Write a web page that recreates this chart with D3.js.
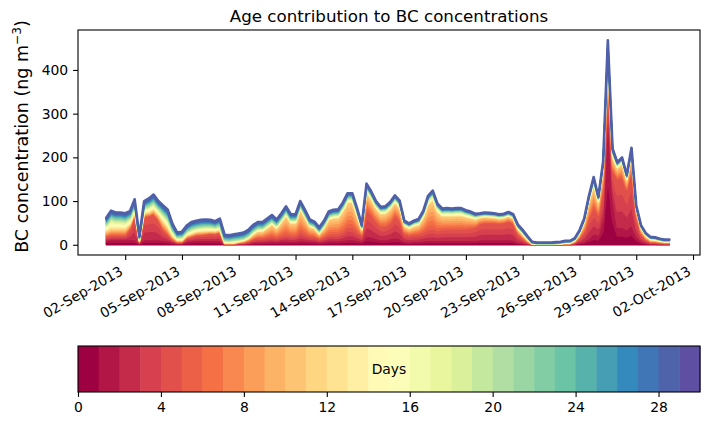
<!DOCTYPE html>
<html>
<head>
<meta charset="utf-8">
<script src="https://cdn.jsdelivr.net/npm/d3@7"></script>
<style>
  body { margin: 0; background: #fff; }
  text { font-family: "DejaVu Sans", sans-serif; }
</style>
</head>
<body>
<svg width="707" height="425"></svg>
<script>
// 6-hourly values from 01-Sep-2013 00:00 UTC
const startTime = new Date(Date.UTC(2013, 8, 1, 0));
const stepHours = 6;

// total BC (ng m-3)
const bcTotal = [
  62, 78, 74, 74, 72, 77, 104, 20, 100, 106,
  115, 100, 90, 80, 48, 28, 30, 44, 52, 55,
  57, 58, 57, 54, 60, 23, 22, 24, 26, 28,
  34, 45, 52, 52, 60, 68, 58, 72, 88, 70,
  70, 100, 80, 58, 53, 40, 55, 76, 80, 81,
  97, 118, 118, 84, 46, 140, 122, 100, 87, 88,
  98, 113, 101, 55, 49, 55, 59, 78, 112, 124,
  94, 83, 84, 83, 84, 84, 79, 76, 71, 72,
  74, 73, 72, 70, 71, 75, 70, 46, 34, 20,
  7, 5, 5, 5, 5, 6, 7, 9, 9, 15,
  33, 60, 112, 155, 110, 190, 468, 220, 189, 200,
  160, 222, 90, 45, 27, 18, 17, 14, 12, 12
];
// age 0-1 days
const bcFresh = [
  10, 12, 12, 12, 12, 12, 12, 3, 12, 12,
  12, 12, 10, 9, 6, 3, 3, 8, 9, 10,
  10, 10, 10, 10, 10, 1, 1, 1, 2, 2,
  3, 5, 6, 6, 7, 8, 7, 8, 9, 8,
  8, 10, 9, 8, 8, 6, 7, 9, 9, 9,
  10, 12, 12, 10, 8, 20, 18, 15, 12, 12,
  14, 16, 14, 8, 7, 8, 8, 9, 10, 10,
  10, 10, 10, 10, 10, 10, 10, 10, 10, 12,
  12, 12, 12, 12, 12, 12, 11, 6, 4, 2,
  0.5, 0.3, 0.3, 0.3, 0.3, 0.3, 0.4, 1, 1, 2,
  5, 8, 15, 25, 22, 60, 300, 110, 40, 40,
  35, 45, 20, 8, 4, 2, 2, 1.5, 1, 1
];
// age 2-4 days
const bcRed = [
  9, 10, 10, 10, 10, 25, 56, 3, 52, 54,
  58, 45, 25, 15, 6, 3, 3, 8, 10, 12,
  13, 14, 16, 15, 18, 1, 1, 1, 2, 3,
  5, 8, 10, 10, 11, 12, 10, 13, 15, 13,
  13, 20, 16, 12, 11, 8, 11, 15, 16, 16,
  20, 28, 28, 20, 14, 60, 50, 38, 30, 30,
  35, 50, 42, 18, 15, 16, 17, 20, 25, 27,
  22, 25, 26, 26, 26, 26, 26, 28, 30, 36,
  38, 38, 38, 37, 38, 42, 38, 20, 10, 4,
  0.5, 0.3, 0.3, 0.3, 0.3, 0.4, 0.5, 1, 1, 3,
  10, 22, 45, 60, 45, 70, 70, 60, 110, 115,
  90, 125, 45, 17, 8, 4, 4, 3, 2.5, 2.5
];
// age 5-10 days
const bcOrange = [
  12, 14, 14, 14, 14, 10, 6, 3, 8, 8,
  10, 12, 18, 15, 8, 4, 4, 5, 6, 7,
  7, 7, 6, 6, 6, 2, 2, 2, 3, 4,
  6, 10, 14, 14, 20, 26, 20, 30, 42, 28,
  28, 50, 36, 21, 18, 11, 20, 33, 35, 36,
  46, 56, 56, 36, 12, 40, 35, 30, 28, 29,
  32, 30, 28, 17, 15, 18, 20, 33, 56, 64,
  43, 30, 30, 29, 30, 30, 27, 23, 18, 14,
  14, 13, 12, 11, 11, 11, 11, 10, 10, 5,
  1, 0.5, 0.5, 0.5, 0.5, 0.6, 0.8, 1.5, 1.5, 4,
  10, 20, 38, 50, 30, 45, 50, 30, 25, 30,
  23, 35, 17, 12, 8, 5, 4, 3.5, 3, 3
];
// age 20-29 days
const bcOld = [
  16, 18, 18, 18, 18, 16, 16, 6, 16, 18,
  19, 17, 19, 21, 15, 11, 12, 14, 16, 16,
  16, 16, 15, 14, 16, 13, 13, 13, 14, 14,
  14, 14, 14, 14, 14, 14, 13, 13, 13, 13,
  13, 12, 12, 11, 10, 10, 10, 11, 11, 11,
  11, 11, 11, 9, 7, 10, 9, 8, 8, 8,
  8, 8, 8, 6, 6, 6, 7, 7, 8, 9,
  8, 8, 8, 8, 8, 8, 7, 7, 6, 5,
  5, 5, 5, 5, 5, 5, 5, 5, 5, 4,
  3, 2.5, 2.5, 2.5, 2.5, 3, 3, 3, 3, 3,
  4, 4, 6, 8, 5, 5, 18, 8, 6, 6,
  5, 6, 3, 3, 3, 3, 3, 3, 3, 3
];

const ageDays = d3.range(30);
const bandDays = [[0, 1], [2, 4], [5, 10], [11, 19], [20, 29]];
const xTickDates = ["2013-09-02", "2013-09-05", "2013-09-08", "2013-09-11", "2013-09-14",
  "2013-09-17", "2013-09-20", "2013-09-23", "2013-09-26", "2013-09-29", "2013-10-02"];
const yTicks = [0, 100, 200, 300, 400];
const cbarTicks = [0, 4, 8, 12, 16, 20, 24, 28];

// matplotlib "Spectral", linear segments
const spectralStops = ["#9e0142", "#d53e4f", "#f46d43", "#fdae61", "#fee08b", "#ffffbf",
  "#e6f598", "#abdda4", "#66c2a5", "#3288bd", "#5e4fa2"];
const spectral = d3.piecewise(d3.interpolateRgb, spectralStops);
const color = d => spectral(d / 29);

// one row per time step, one column per age day
const rows = bcTotal.map((tot, i) => {
  const mid = Math.max(0, tot - bcFresh[i] - bcRed[i] - bcOrange[i] - bcOld[i]);
  const bands = [bcFresh[i], bcRed[i], bcOrange[i], mid, bcOld[i]];
  const row = { time: d3.utcHour.offset(startTime, stepHours * i) };
  bandDays.forEach(([a, b], k) => {
    for (let d = a; d <= b; d++) row[d] = bands[k] / (b - a + 1);
  });
  return row;
});

const svg = d3.select("svg");
const pL = 78, pR = 700, pT = 30, pB = 255;

const t0 = rows[0].time, t1 = rows[rows.length - 1].time;
const pad = 0.05 * (t1 - t0 + 3 * 3600e3);
const x = d3.scaleUtc()
  .domain([new Date(+t0 - pad), new Date(+t1 + 3 * 3600e3 + pad)])
  .range([pL, pR]);

const series = d3.stack().keys(ageDays)(rows);
const ymax = d3.max(series[series.length - 1], d => d[1]);
const y = d3.scaleLinear()
  .domain([-0.05 * ymax, 1.05 * ymax])
  .range([pB, pT]);

const area = d3.area()
  .x(d => x(d.data.time))
  .y0(d => y(d[0]))
  .y1(d => y(d[1]));

svg.append("defs").append("clipPath").attr("id", "plotclip")
  .append("rect").attr("x", pL).attr("y", pT)
  .attr("width", pR - pL).attr("height", pB - pT);

svg.append("g").attr("clip-path", "url(#plotclip)")
  .selectAll("path")
  .data(series)
  .join("path")
  .attr("d", area)
  .attr("fill", s => color(s.key))
  .attr("stroke", s => s.key === 29 ? "#4f5fa8" : color(s.key))
  .attr("stroke-width", s => s.key === 29 ? 2.6 : 1.4)
  .attr("stroke-linejoin", "round");

// x axis
const xAxis = svg.append("g")
  .attr("transform", `translate(0,${pB})`)
  .call(d3.axisBottom(x)
    .tickValues(xTickDates.map(s => new Date(s + "T00:00:00Z")))
    .tickFormat(d3.utcFormat("%d-%b-%Y"))
    .tickSize(4.9).tickSizeOuter(0));
xAxis.select(".domain").remove();
xAxis.selectAll(".tick line").attr("stroke-width", 1.1);
xAxis.selectAll(".tick text")
  .attr("font-size", 13.9)
  .attr("fill", "#000")
  .attr("text-anchor", "end")
  .attr("dy", null)
  .attr("y", null)
  .attr("transform", "translate(-1.7,19) rotate(-30)");

// y axis
const yAxis = svg.append("g")
  .attr("transform", `translate(${pL},0)`)
  .call(d3.axisLeft(y).tickValues(yTicks).tickSize(4.9).tickPadding(4.9).tickSizeOuter(0));
yAxis.select(".domain").remove();
yAxis.selectAll(".tick line").attr("stroke-width", 1.1);
yAxis.selectAll(".tick text").attr("font-size", 13.9).attr("fill", "#000");

svg.append("rect")
  .attr("x", pL).attr("y", pT)
  .attr("width", pR - pL).attr("height", pB - pT)
  .attr("fill", "none").attr("stroke", "#000").attr("stroke-width", 1.1);

svg.append("text")
  .attr("x", (pL + pR) / 2).attr("y", 22)
  .attr("text-anchor", "middle").attr("font-size", 16.7)
  .text("Age contribution to BC concentrations");

const ylab = svg.append("text")
  .attr("transform", `translate(28,${(pT + pB) / 2 - 6}) rotate(-90)`)
  .attr("text-anchor", "middle").attr("font-size", 17.5);
ylab.append("tspan").text("BC concentration (ng m");
ylab.append("tspan").attr("font-size", 12.2).attr("dy", -7).text("\u22123");
ylab.append("tspan").attr("dy", 7).text(")");

// colour bar
const cbTop = 346, cbBottom = 392;
const cx = d3.scaleLinear().domain([0, 30]).range([pL, pR]);
svg.append("g").selectAll("rect")
  .data(ageDays)
  .join("rect")
  .attr("x", d => cx(d)).attr("y", cbTop)
  .attr("width", d => cx(d + 1) - cx(d) + 0.5).attr("height", cbBottom - cbTop)
  .attr("fill", d => color(d));
svg.append("rect")
  .attr("x", pL).attr("y", cbTop)
  .attr("width", pR - pL).attr("height", cbBottom - cbTop)
  .attr("fill", "none").attr("stroke", "#000").attr("stroke-width", 1.1);
const cAxis = svg.append("g")
  .attr("transform", `translate(0,${cbBottom})`)
  .call(d3.axisBottom(cx).tickValues(cbarTicks).tickSize(4.9).tickPadding(4.9).tickSizeOuter(0));
cAxis.select(".domain").remove();
cAxis.selectAll(".tick line").attr("stroke-width", 1.1);
cAxis.selectAll(".tick text").attr("font-size", 13.9).attr("fill", "#000");

svg.append("text")
  .attr("x", (pL + pR) / 2).attr("y", cbTop + 28)
  .attr("text-anchor", "middle").attr("font-size", 13.9)
  .text("Days");
</script>
</body>
</html>
